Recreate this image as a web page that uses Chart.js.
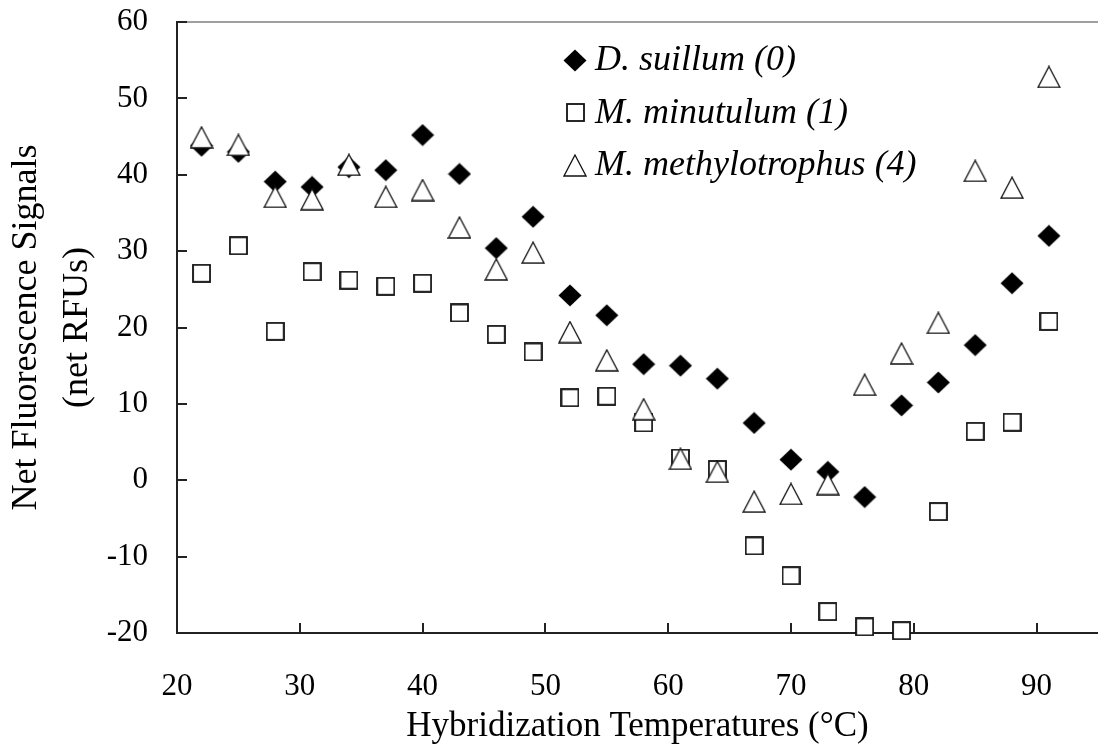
<!DOCTYPE html>
<html>
<head>
<meta charset="utf-8">
<script src="https://cdn.jsdelivr.net/npm/chart.js@4.4.0/dist/chart.umd.min.js"></script>
<style>
  html, body { margin: 0; padding: 0; background: #ffffff; }
  #wrap { width: 1098px; height: 750px; }
</style>
</head>
<body>
<div id="wrap"><canvas id="c" width="1098" height="750"></canvas></div>
<script>
// ---- data ----
const temperatures = [22, 25, 28, 31, 34, 37, 40, 43, 46, 49, 52, 55, 58, 61, 64, 67, 70, 73, 76, 79, 82, 85, 88, 91];
const dSuillum = [43.8, 43.0, 39.1, 38.4, 41.0, 40.6, 45.2, 40.1, 30.4, 34.5, 24.2, 21.6, 15.2, 15.0, 13.3, 7.5, 2.7, 1.1, -2.2, 9.8, 12.8, 17.7, 25.8, 32.0];
const mMinutulum = [27.1, 30.7, 19.5, 27.3, 26.2, 25.4, 25.8, 21.9, 19.1, 16.8, 10.8, 11.0, 7.5, 2.9, 1.4, -8.6, -12.5, -17.2, -19.2, -19.7, -4.1, 6.4, 7.6, 20.8];
const mMethylotrophus = [44.9, 43.9, 37.1, 36.8, 41.3, 37.1, 38.0, 33.1, 27.6, 29.8, 19.4, 15.7, 9.3, 2.8, 1.1, -2.8, -1.8, -0.5, 12.5, 16.6, 20.6, 40.5, 38.3, 52.8];
const seriesNames = ['D. suillum (0)', 'M. minutulum (1)', 'M. methylotrophus (4)'];
const xTickValues = [20, 30, 40, 50, 60, 70, 80, 90];
const yTickValues = [-20, -10, 0, 10, 20, 30, 40, 50, 60];
const xTitle = 'Hybridization Temperatures (°C)';
const yTitle = ['Net Fluorescence Signals', '(net RFUs)'];

// ---- marker images ----
function makeMarker(kind) {
  const c = document.createElement('canvas');
  const g = c.getContext('2d');
  if (kind === 'diamond') {
    c.width = 24; c.height = 23;
    g.beginPath();
    g.moveTo(12, 0.5); g.lineTo(23.5, 11.5); g.lineTo(12, 22.5); g.lineTo(0.5, 11.5);
    g.closePath();
    g.fillStyle = '#000'; g.fill();
  } else if (kind === 'square') {
    c.width = 19; c.height = 19;
    g.fillStyle = '#fff'; g.fillRect(1, 1, 17, 17);
    g.strokeStyle = '#111'; g.lineWidth = 1.8; g.strokeRect(1, 1, 17, 17);
  } else {
    c.width = 24; c.height = 23;
    g.beginPath();
    g.moveTo(12, 1); g.lineTo(23, 22); g.lineTo(1, 22);
    g.closePath();
    g.fillStyle = '#fff'; g.fill();
    g.strokeStyle = '#111'; g.lineWidth = 1.3; g.lineJoin = 'miter'; g.stroke();
  }
  return c;
}
const markers = [makeMarker('diamond'), makeMarker('square'), makeMarker('triangle')];

function pts(ys) { return temperatures.map((t, i) => ({ x: t, y: ys[i] })); }

const FONT = "'Liberation Serif', 'Times New Roman', serif";

const tickMarks = {
  id: 'tickMarks',
  beforeDatasetsDraw(chart) {
    const { ctx, chartArea: a, scales: { x, y } } = chart;
    ctx.save();
    ctx.strokeStyle = '#222';
    ctx.lineWidth = 2;
    ctx.beginPath();
    y.ticks.forEach(t => {
      if (t.value === yTickValues[0]) return;
      const py = Math.round(y.getPixelForValue(t.value));
      ctx.moveTo(a.left, py); ctx.lineTo(a.left + 10, py);
    });
    x.ticks.forEach(t => {
      if (t.value === xTickValues[0]) return;
      const px = Math.round(x.getPixelForValue(t.value));
      ctx.moveTo(px, a.bottom); ctx.lineTo(px, a.bottom - 10);
    });
    ctx.stroke();
    ctx.restore();
  }
};

const insideLegend = {
  id: 'insideLegend',
  afterDatasetsDraw(chart) {
    const { ctx, chartArea: a } = chart;
    ctx.save();
    ctx.font = "italic 36px " + FONT;
    ctx.fillStyle = '#000';
    ctx.textBaseline = 'middle';
    ctx.textAlign = 'left';
    chart.data.datasets.forEach((ds, i) => {
      const cy = a.top + 38 + i * 52.5;
      const cx = a.left + 398;
      const m = markers[i];
      ctx.drawImage(m, Math.round(cx - m.width / 2), Math.round(cy - m.height / 2));
      ctx.fillText(ds.label, cx + 20, cy + 1);
    });
    ctx.restore();
  }
};

function zeroPad(s) { s.paddingTop = 0; s.paddingBottom = 0; s.paddingLeft = 0; s.paddingRight = 0; }

new Chart(document.getElementById('c'), {
  type: 'scatter',
  data: {
    datasets: [
      { label: seriesNames[0], data: pts(dSuillum), pointStyle: markers[0], pointRadius: 11, order: 2, clip: false },
      { label: seriesNames[1], data: pts(mMinutulum), pointStyle: markers[1], pointRadius: 11, order: 1, clip: false },
      { label: seriesNames[2], data: pts(mMethylotrophus), pointStyle: markers[2], pointRadius: 11, order: 0, clip: false }
    ]
  },
  options: {
    responsive: false,
    animation: false,
    events: [],
    layout: { autoPadding: false, padding: { top: 22, right: 0, left: 0, bottom: 0 } },
    plugins: {
      legend: { display: false },
      tooltip: { enabled: false }
    },
    scales: {
      x: {
        type: 'linear',
        min: 20, max: 95,
        afterBuildTicks: s => { s.ticks = xTickValues.map(v => ({ value: v })); },
        afterFit: s => { s.height = 117; zeroPad(s); },
        grid: { display: false, drawTicks: false },
        border: { display: true, color: '#222', width: 2 },
        ticks: { color: '#000', font: { family: FONT, size: 31 }, padding: 35, maxRotation: 0 },
        title: { display: true, text: xTitle, color: '#000', font: { family: FONT, size: 35, lineHeight: 1.2 }, padding: { top: 0, bottom: 2 } }
      },
      y: {
        type: 'linear',
        min: -20, max: 60,
        afterBuildTicks: s => { s.ticks = yTickValues.map(v => ({ value: v })); },
        afterFit: s => { s.width = 177; zeroPad(s); },
        grid: {
          drawTicks: false,
          color: c => (c.tick && c.tick.value === 60 ? '#a0a0a0' : 'rgba(0,0,0,0)'),
          lineWidth: 2
        },
        border: { display: true, color: '#222', width: 2 },
        ticks: { color: '#000', font: { family: FONT, size: 31 }, padding: 29 },
        title: { display: true, text: yTitle, color: '#000', font: { family: FONT, size: 36, lineHeight: 1.39 }, padding: { top: 2, bottom: 0 } }
      }
    }
  },
  plugins: [tickMarks, insideLegend]
});
</script>
</body>
</html>
